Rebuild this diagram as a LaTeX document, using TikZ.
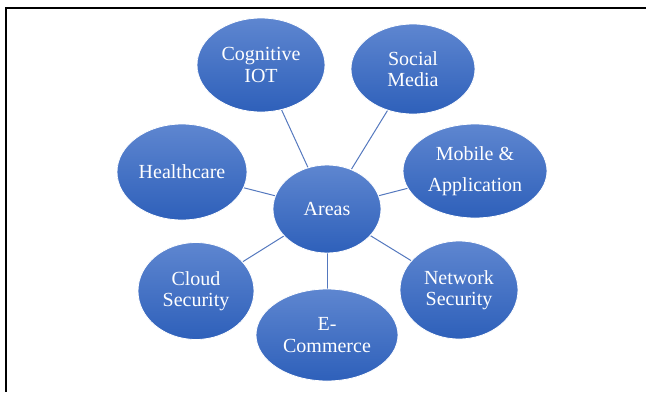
\documentclass[tikz,border=0pt]{standalone}
\usepackage{fontspec}
\setmainfont{Liberation Serif}
\usetikzlibrary{shapes.geometric,backgrounds}
\definecolor{topblue}{RGB}{94,134,208}
\definecolor{botblue}{RGB}{46,96,186}
\definecolor{linkblue}{RGB}{84,120,190}
\tikzset{
  bubble/.style={ellipse, draw=white, line width=0.8pt, top color=topblue, bottom color=botblue,
    inner sep=0pt, text=white, align=center, font=\fontsize{20}{21.5}\selectfont},
  link/.style={draw=linkblue, line width=1pt}
}
\begin{document}
\begin{tikzpicture}[x=1pt,y=-1pt]
\useasboundingbox (0,0) rectangle (646,392);
\draw[line width=2pt] (5,8) -- (646,8);
\draw[line width=2pt] (6,7) -- (6,392);
\node[bubble, minimum width=108pt, minimum height=88pt] (areas) at (327,209) {Areas};
\node[bubble, minimum width=128pt, minimum height=94pt] (cog) at (261,65) {Cognitive\\IOT};
\node[bubble, minimum width=124pt, minimum height=90pt] (soc) at (413,69) {Social\\Media};
\node[bubble, minimum width=144pt, minimum height=94pt] (mob) at (475,171) {Mobile \&\\[9pt]Application};
\node[bubble, minimum width=130pt, minimum height=96pt] (hea) at (182,172) {Healthcare};
\node[bubble, minimum width=116pt, minimum height=97pt] (clo) at (196,291) {Cloud\\Security};
\node[bubble, minimum width=142pt, minimum height=92pt] (eco) at (327,335) {E-\\Commerce};
\node[bubble, minimum width=118pt, minimum height=98pt] (net) at (459,290) {Network\\Security};
\begin{scope}[on background layer]
\draw[link] (areas) -- (cog);
\draw[link] (areas) -- (soc);
\draw[link] (areas) -- (mob);
\draw[link] (areas) -- (hea);
\draw[link] (areas) -- (clo);
\draw[link] (areas) -- (eco);
\draw[link] (areas) -- (net);
\end{scope}
\end{tikzpicture}
\end{document}
